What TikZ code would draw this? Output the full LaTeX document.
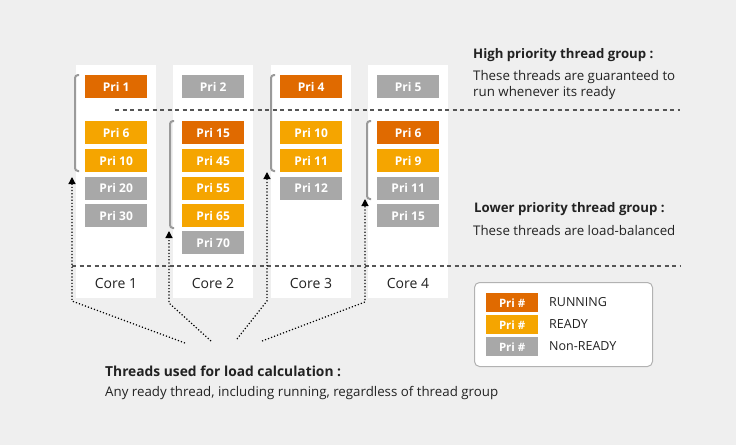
\documentclass[tikz,border=0pt]{standalone}
\usepackage{fontspec}
\setmainfont{Open Sans}
\usetikzlibrary{arrows.meta}
\definecolor{bg}{HTML}{EFEFEF}
\definecolor{run}{HTML}{E06A00}
\definecolor{rdy}{HTML}{F5A500}
\definecolor{nrd}{HTML}{A8A8A8}
\definecolor{brk}{HTML}{9A9A9A}
\definecolor{dsh}{HTML}{555555}
\definecolor{txt}{HTML}{222222}
\begin{document}
\begin{tikzpicture}[x=1pt,y=-1pt,
  colbox/.style={fill=white, draw=none, minimum width=80pt, minimum height=233pt, anchor=north west, inner sep=0pt},
  pri/.style={minimum width=62pt, minimum height=23pt, inner sep=0pt, text=white, font=\fontsize{12}{13}\selectfont\bfseries, anchor=north west},
  prun/.style={pri, fill=run},
  prdy/.style={pri, fill=rdy},
  pnrd/.style={pri, fill=nrd},
  swatch/.style={minimum width=52pt, minimum height=19pt, inner sep=0pt, text=white, font=\fontsize{11.5}{12}\selectfont\bfseries, anchor=north west},
  corelbl/.style={font=\fontsize{14}{15}\selectfont, text=txt},
  head/.style={font=\fontsize{13.2}{15}\selectfont\bfseries, text=txt, anchor=west, inner sep=0pt},
  bhead/.style={head, font=\fontsize{13.8}{15}\selectfont\bfseries},
  desc/.style={font=\fontsize{13.3}{15}\selectfont, text=txt, anchor=west, inner sep=0pt},
  legtxt/.style={font=\fontsize{12.5}{14}\selectfont, text=txt, anchor=west, inner sep=0pt},
  bracket/.style={draw=brk, line width=2pt, rounded corners=3pt},
  sep/.style={draw=dsh, line width=1.6pt, dash pattern=on 4pt off 3.5pt},
  ptr/.style={draw=black, line width=1.2pt, dash pattern=on 1.2pt off 2pt, -{Triangle[length=7pt,width=7pt]}}
]
\fill[bg] (0,0) rectangle (736,445);
\useasboundingbox (0,0) rectangle (736,445);

% columns
\node[colbox] (c1) at (76,65) {};
\node[colbox] (c2) at (173,65) {};
\node[colbox] (c3) at (271,65) {};
\node[colbox] (c4) at (368,65) {};

% column 1
\node[prun] (a1) at (85,75) {Pri 1};
\node[prdy] (a2) at (85,121) {Pri 6};
\node[prdy] (a3) at (85,149) {Pri 10};
\node[pnrd] (a4) at (85,176.5) {Pri 20};
\node[pnrd] (a5) at (85,204) {Pri 30};
% column 2
\node[pnrd] (b1) at (182,75) {Pri 2};
\node[prun] (b2) at (182,121) {Pri 15};
\node[prdy] (b3) at (182,149) {Pri 45};
\node[prdy] (b4) at (182,176.5) {Pri 55};
\node[prdy] (b5) at (182,204) {Pri 65};
\node[pnrd] (b6) at (182,231) {Pri 70};
% column 3
\node[prun] (d1) at (280,75) {Pri 4};
\node[prdy] (d2) at (280,121) {Pri 10};
\node[prdy] (d3) at (280,149) {Pri 11};
\node[pnrd] (d4) at (280,176.5) {Pri 12};
% column 4
\node[pnrd] (e1) at (377,75) {Pri 5};
\node[prun] (e2) at (377,121) {Pri 6};
\node[prdy] (e3) at (377,149) {Pri 9};
\node[pnrd] (e4) at (377,176.5) {Pri 11};
\node[pnrd] (e5) at (377,204) {Pri 15};

% core labels
\node[corelbl] (k1) at (116,283) {Core 1};
\node[corelbl] (k2) at (213,283) {Core 2};
\node[corelbl] (k3) at (311,283) {Core 3};
\node[corelbl] (k4) at (408,283) {Core 4};

% brackets
\draw[bracket] (79,75) -- (75,75) -- (75,171) -- (79,171);
\draw[bracket] (174,121) -- (170,121) -- (170,228) -- (174,228);
\draw[bracket] (275,75) -- (271,75) -- (271,171) -- (275,171);
\draw[bracket] (371,121) -- (367,121) -- (367,199) -- (371,199);

% separators
\coordinate (s1a) at (115,110);
\coordinate (s1b) at (680,110);
\coordinate (s2a) at (72,266);
\coordinate (s2b) at (681,266);
\draw[sep] (s1a) -- (s1b);
\draw[sep] (s2a) -- (s2b);

% pointers
\coordinate (t1) at (72,177);
\coordinate (m1) at (72,301);
\coordinate (f1) at (185,343);
\coordinate (t2) at (169,231);
\coordinate (m2) at (169,303);
\coordinate (f2) at (211,341);
\coordinate (t3) at (267,172);
\coordinate (m3) at (267,301);
\coordinate (f3) at (237,339);
\coordinate (t4) at (365,199);
\coordinate (m4) at (365,302);
\coordinate (f4) at (262,341);
\draw[ptr] (f1) -- (m1) -- (t1);
\draw[ptr] (f2) -- (m2) -- (t2);
\draw[ptr] (f3) -- (m3) -- (t3);
\draw[ptr] (f4) -- (m4) -- (t4);

% texts
\node[head] (h1) at (473,55) {High priority thread group :};
\node[desc] (h2) at (473,77) {These threads are guaranteed to};
\node[desc] (h3) at (473,93) {run whenever its ready};
\node[head] (l1) at (474,209) {Lower priority thread group :};
\node[desc] (l2) at (473,231) {These threads are load-balanced};
\node[bhead] (q1) at (105,371) {Threads used for load calculation :};
\node[desc] (q2) at (105,393) {Any ready thread, including running, regardless of thread group};

% legend
\node[draw=lightgray!80!gray, fill=white, rounded corners=5pt, line width=1pt, minimum width=178pt, minimum height=84pt, anchor=north west, inner sep=0pt] (leg) at (474,282) {};
\node[swatch, fill=run] (g1) at (486,293) {Pri \#};
\node[swatch, fill=rdy] (g2) at (486,315) {Pri \#};
\node[swatch, fill=nrd] (g3) at (486,337) {Pri \#};
\node[legtxt] (g1t) at (549,302.5) {RUNNING};
\node[legtxt] (g2t) at (549,324.5) {READY};
\node[legtxt] (g3t) at (549,346.5) {Non-READY};
\end{tikzpicture}
\end{document}
